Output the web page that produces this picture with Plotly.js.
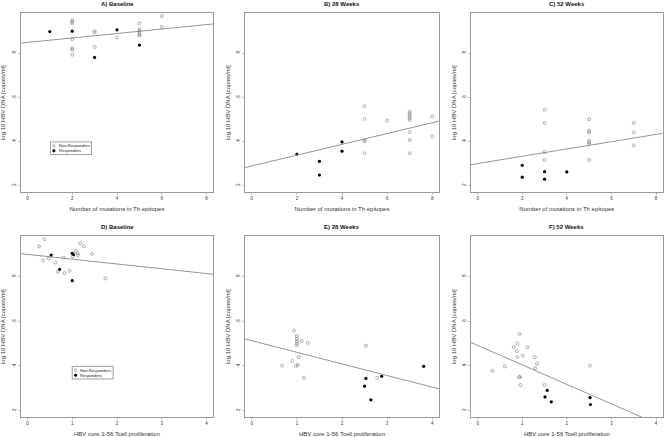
<!DOCTYPE html>
<html><head><meta charset="utf-8">
<script src="https://cdn.plot.ly/plotly-3.0.1.min.js"></script>
<style>html,body{margin:0;padding:0;background:#fff}#chart{width:664px;height:437px}</style>
</head><body><div id="chart"></div>
<script>
// ---- Data ----
const panelTitles = ["A) Baseline", "B) 28 Weeks", "C) 52 Weeks", "D) Baseline", "E) 28 Weeks", "F) 52 Weeks"];
const xTitleTop = "Number of mutations in Th epitopes";
const xTitleBottom = "HBV core 1-56 Tcell proliferation";
const yTitle = "log 10 HBV DNA [copies/ml]";
const legendLabels = ["Non-Responders", "Responders"];

// A) Baseline: mutations vs log10 HBV DNA
const A_non_x = [2, 2, 2, 2, 2, 2, 2, 3, 3, 3, 4, 5, 5, 5, 5, 5, 5, 6, 6];
const A_non_y = [9.49, 9.41, 9.33, 8.63, 8.21, 8.15, 7.92, 8.99, 8.93, 8.27, 8.70, 9.35, 9.08, 9.00, 8.90, 8.84, 8.79, 9.68, 9.18];
const A_res_x = [1, 2, 3, 4, 5];
const A_res_y = [8.97, 8.99, 7.80, 9.05, 8.36];

// B) 28 Weeks
const B_non_x = [5, 5, 5, 5, 5, 6, 7, 7, 7, 7, 7, 7, 7, 7, 7, 8, 8];
const B_non_y = [5.59, 5.01, 4.05, 3.99, 3.46, 4.94, 5.34, 5.27, 5.19, 5.12, 5.04, 4.96, 4.41, 4.06, 3.46, 5.13, 4.22];
const B_res_x = [2, 3, 3, 4, 4];
const B_res_y = [3.42, 3.09, 2.47, 3.97, 3.55];

// C) 52 Weeks
const C_non_x = [3, 3, 3, 3, 5, 5, 5, 5, 5, 5, 5, 7, 7, 7];
const C_non_y = [5.43, 4.83, 3.51, 3.15, 5.00, 4.47, 4.40, 4.02, 3.95, 3.87, 3.15, 4.83, 4.40, 3.81];
const C_res_x = [2, 2, 3, 3, 4];
const C_res_y = [2.91, 2.37, 2.62, 2.28, 2.61];

// D) Baseline: T-cell proliferation vs log10 HBV DNA
const D_non_x = [0.26, 0.38, 0.35, 0.47, 0.63, 0.68, 0.83, 0.81, 0.94, 1.01, 1.12, 1.13, 1.08, 1.18, 1.26, 1.44, 1.74];
const D_non_y = [9.35, 9.66, 8.71, 8.81, 8.62, 8.21, 8.15, 8.84, 8.26, 8.90, 9.04, 8.95, 9.14, 9.49, 9.35, 9.01, 7.91];
const D_res_x = [0.53, 0.72, 1.00, 1.00, 1.03];
const D_res_y = [8.96, 8.32, 7.81, 9.04, 8.98];

// E) 28 Weeks
const E_non_x = [0.67, 0.90, 0.94, 1.00, 1.00, 1.00, 1.00, 1.00, 0.98, 1.02, 1.04, 1.11, 1.24, 1.16, 2.53, 2.78];
const E_non_y = [4.00, 4.21, 5.58, 5.33, 5.20, 5.10, 5.00, 4.92, 4.00, 4.03, 4.39, 5.11, 5.02, 3.46, 4.90, 3.46];
const E_res_x = [2.53, 2.50, 2.64, 2.88, 3.81];
const E_res_y = [3.43, 3.08, 2.47, 3.53, 3.97];

// F) 52 Weeks
const F_non_x = [0.33, 0.61, 0.94, 0.89, 0.81, 1.12, 0.88, 0.89, 1.01, 1.28, 1.33, 1.29, 0.93, 0.95, 0.96, 1.50, 2.52];
const F_non_y = [3.77, 3.97, 5.42, 4.99, 4.83, 4.83, 4.65, 4.38, 4.45, 4.38, 4.09, 3.88, 3.49, 3.49, 3.14, 3.14, 4.00];
const F_res_x = [1.56, 1.51, 1.65, 2.52, 2.53];
const F_res_y = [2.89, 2.60, 2.38, 2.57, 2.26];

// Fitted regression lines (intercept, slope)
const fitIntercept = [8.48, 2.88, 2.99, 8.99, 5.12, 4.91];
const fitSlope = [0.101, 0.245, 0.165, -0.215, -0.52, -0.874];

// Axis ticks
const xTicksTop = [0, 2, 4, 6, 8];
const xTicksBottom = [0, 1, 2, 3, 4];
const yTicks = [2, 4, 6, 8];

// ---- Build figure ----
const panels = [
  [A_non_x, A_non_y, A_res_x, A_res_y],
  [B_non_x, B_non_y, B_res_x, B_res_y],
  [C_non_x, C_non_y, C_res_x, C_res_y],
  [D_non_x, D_non_y, D_res_x, D_res_y],
  [E_non_x, E_non_y, E_res_x, E_res_y],
  [F_non_x, F_non_y, F_res_x, F_res_y]
];

const W = 664, H = 437;
const colDom = [[20.7, 213.3], [245, 439], [471, 662.7]].map(d => [d[0] / W, d[1] / W]);
const rowDom = [[13.3, 192], [236.3, 417]].map(d => [1 - d[1] / H, 1 - d[0] / H]);
const xRangeTop = [-0.3, 8.3];
const xRangeBottom = [-0.15, 4.15];
const yRange = [1.7, 9.8];

const FONT = "Liberation Sans, Arial, sans-serif";
const boxColor = "#9a9a9a";
const openColor = "#8c8c8c";
const lineColor = "#7a7a7a";

const traces = [];
const layout = {
  width: W, height: H,
  margin: {l: 0, r: 0, t: 0, b: 0},
  paper_bgcolor: "#fff", plot_bgcolor: "#fff",
  showlegend: false,
  font: {family: FONT, color: "#222"},
  annotations: [], shapes: []
};

panels.forEach((p, i) => {
  const row = Math.floor(i / 3), col = i % 3;
  const n = i + 1;
  const xa = "x" + (n === 1 ? "" : n), ya = "y" + (n === 1 ? "" : n);
  const xr = row === 0 ? xRangeTop : xRangeBottom;
  traces.push({
    type: "scatter", mode: "markers", x: p[0], y: p[1], xaxis: xa, yaxis: ya,
    name: legendLabels[0],
    marker: {symbol: "circle-open", size: 3, color: openColor, line: {width: 0.7, color: openColor}},
    hoverinfo: "x+y"
  });
  traces.push({
    type: "scatter", mode: "markers", x: p[2], y: p[3], xaxis: xa, yaxis: ya,
    name: legendLabels[1],
    marker: {symbol: "circle", size: 3.2, color: "#000", line: {width: 0}},
    hoverinfo: "x+y"
  });
  traces.push({
    type: "scatter", mode: "lines", xaxis: xa, yaxis: ya,
    x: xr, y: xr.map(v => fitIntercept[i] + fitSlope[i] * v),
    line: {color: lineColor, width: 0.8}, hoverinfo: "skip", name: "fit"
  });
  const axBase = {
    showgrid: false, zeroline: false, showline: true, mirror: true,
    linecolor: boxColor, linewidth: 1, ticks: "outside", ticklen: 2,
    tickcolor: boxColor, tickwidth: 0.6,
    tickfont: {size: 4.5, color: "#333", family: FONT}, fixedrange: true
  };
  layout["xaxis" + (n === 1 ? "" : n)] = Object.assign({}, axBase, {
    domain: colDom[col], anchor: ya, range: xr,
    tickmode: "array", tickvals: row === 0 ? xTicksTop : xTicksBottom,
    title: {text: row === 0 ? xTitleTop : xTitleBottom, font: {size: 6, color: "#333", family: FONT}, standoff: 6}
  });
  layout["yaxis" + (n === 1 ? "" : n)] = Object.assign({}, axBase, {
    domain: rowDom[row], anchor: xa, range: yRange,
    tickmode: "array", tickvals: yTicks, tickangle: -90,
    title: {text: yTitle, font: {size: 6, color: "#333", family: FONT}, standoff: 5}
  });
  layout.annotations.push({
    xref: "paper", yref: "paper",
    x: (colDom[col][0] + colDom[col][1]) / 2, y: rowDom[row][1] + 9.3 / H,
    text: "<b>" + panelTitles[i] + "</b>", showarrow: false,
    xanchor: "center", yanchor: "middle",
    font: {size: 6, color: "#111", family: FONT}
  });
});

// Legends drawn in panels A and D (top-left corner at data point (1, 4))
function addLegend(n, xAnchor) {
  const xr = "x" + (n === 1 ? "" : n), yr = "y" + (n === 1 ? "" : n);
  layout.shapes.push({
    type: "rect", xref: xr, yref: yr, xsizemode: "pixel", ysizemode: "pixel",
    xanchor: xAnchor, yanchor: 3.97, x0: 0, x1: 41, y0: 0, y1: -12.6,
    line: {color: "#777", width: 0.7}, fillcolor: "rgba(0,0,0,0)"
  });
  [[3.8, openColor, "rgba(0,0,0,0)"], [8.9, "#000", "#000"]].forEach((e, k) => {
    layout.shapes.push({
      type: "circle", xref: xr, yref: yr, xsizemode: "pixel", ysizemode: "pixel",
      xanchor: xAnchor, yanchor: 3.97, x0: 2.2, x1: 4.6, y0: -e[0] + 1.2, y1: -e[0] - 1.2,
      line: {color: e[1], width: 0.7}, fillcolor: e[2]
    });
    layout.annotations.push({
      xref: xr, yref: yr, x: xAnchor, y: 3.97, xshift: 6.2, yshift: -e[0],
      text: legendLabels[k], showarrow: false, xanchor: "left", yanchor: "middle",
      font: {size: 4.1, color: "#222", family: FONT}
    });
  });
}
addLegend(1, 1.03);
addLegend(4, 1.0);

Plotly.newPlot("chart", traces, layout, {staticPlot: true, displayModeBar: false});
</script>
</body></html>
